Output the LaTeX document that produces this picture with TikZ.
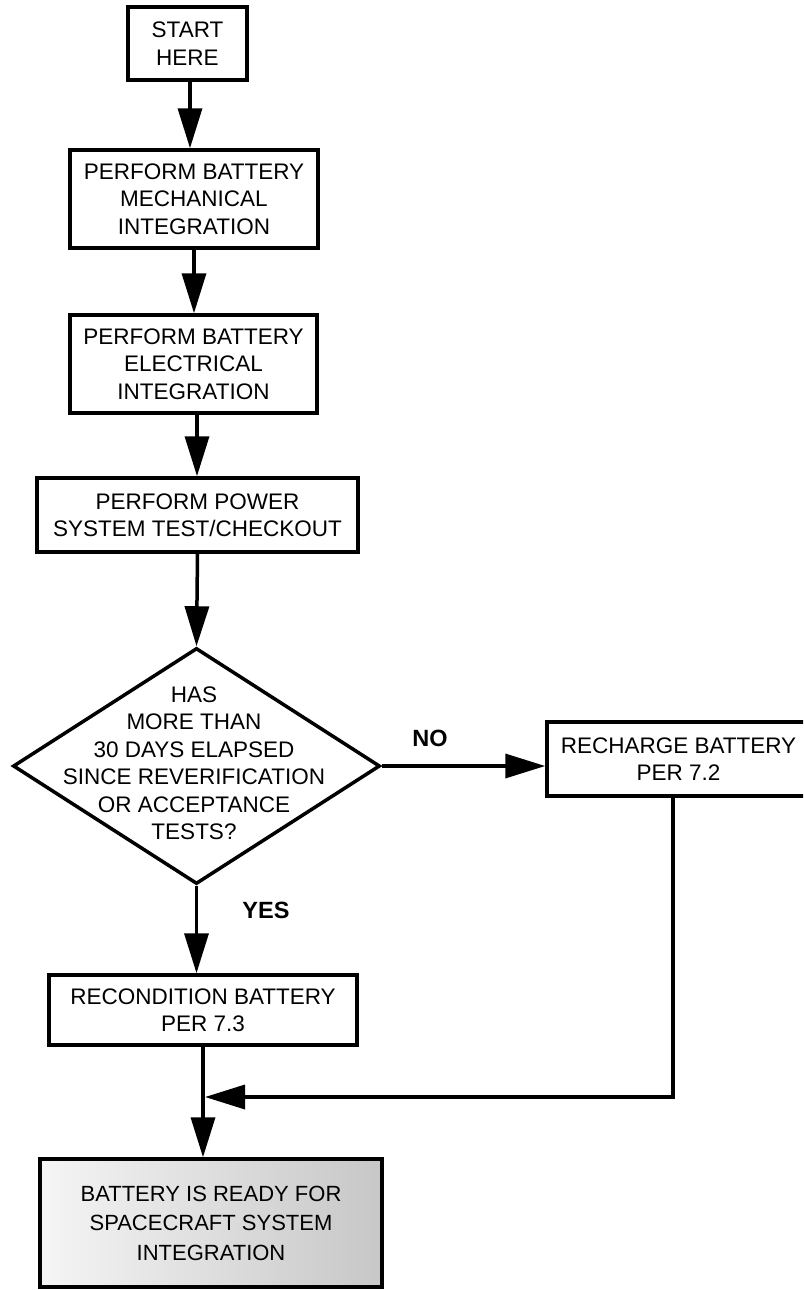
\documentclass[tikz,border=0pt]{standalone}
\usepackage{fontspec}
\setmainfont{Liberation Sans}
\usetikzlibrary{arrows.meta,shapes.geometric,calc}
\newcommand\boxfont{\fontsize{22.5}{27.5}\selectfont}
\newcommand\lblfont{\fontsize{23.5}{28}\selectfont\bfseries}
\begin{document}
\begin{tikzpicture}[x=1pt,y=-1pt,
  box/.style={draw,line width=3.5pt,rectangle,inner sep=0pt,align=center,font=\boxfont},
  arr/.style={line width=3.5pt,-{Triangle[length=40pt,width=24pt]}},
  lbl/.style={font=\lblfont,inner sep=0pt}]
\useasboundingbox (0,0) rectangle (803,1290);
\clip (0,0) rectangle (803,1290);
\node[box,minimum width=119,minimum height=73] (start) at (187.5,43.5) {START\\HERE};
\node[box,minimum width=248,minimum height=98] (mech) at (194,199) {PERFORM BATTERY\\MECHANICAL\\INTEGRATION};
\node[box,minimum width=247,minimum height=98] (elec) at (193.5,364) {PERFORM BATTERY\\ELECTRICAL\\INTEGRATION};
\node[box,minimum width=321,minimum height=74] (power) at (197.5,515) {PERFORM POWER\\SYSTEM TEST/CHECKOUT};
\node[draw,diamond,line width=3.5pt,inner sep=0pt,minimum width=367,minimum height=236] (dia) at (196.5,766) {};
\node[font=\boxfont,align=center,inner sep=0pt] (dtext) at (194,763) {HAS\\MORE THAN\\30 DAYS ELAPSED\\SINCE REVERIFICATION\\OR ACCEPTANCE\\TESTS?};
\node[box,minimum width=263,minimum height=74] (rech) at (678.5,759) {RECHARGE BATTERY\\PER 7.2};
\node[box,minimum width=308,minimum height=70] (recond) at (203,1010) {RECONDITION BATTERY\\PER 7.3};
\node[box,minimum width=342,minimum height=128,left color=black!4,right color=black!22,align=center,font=\fontsize{22}{29.5}\selectfont] (final) at (211,1223) {BATTERY IS READY FOR\\SPACECRAFT SYSTEM\\INTEGRATION};
\node[lbl] (no) at (430,738) {NO};
\node[lbl] (yes) at (266,910) {YES};
\coordinate (mergept) at (205,1097);
\draw[arr] ([xshift=2.5]start.south) -- ([xshift=2.5]start.south |- mech.north);
\draw[arr] (mech.south) -- (mech.south |- elec.north);
\draw[arr] ([xshift=3.5]elec.south) -- ([xshift=3.5]elec.south |- power.north);
\draw[arr] (power.south) -- (dia.north);
\draw[arr] (dia.east) -- (dia.east -| rech.west);
\draw[arr] (dia.south) -- (dia.south |- recond.north);
\draw[arr] (recond.south) -- (recond.south |- final.north);
\draw[arr] ([xshift=-5.5]rech.south) |- (mergept);
\end{tikzpicture}
\end{document}
